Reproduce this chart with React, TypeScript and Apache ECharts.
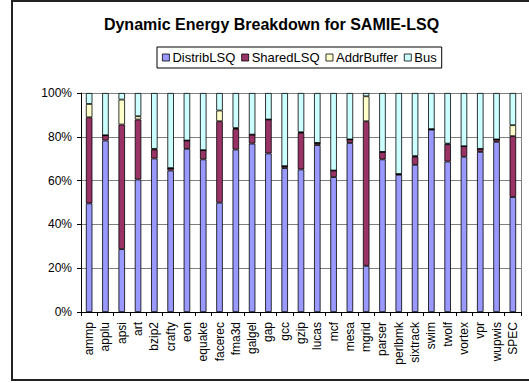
import React, { useEffect, useRef } from "react";
import * as echarts from "echarts";

const categories = [
  "ammp", "applu", "apsi", "art", "bzip2", "crafty", "eon", "equake", "facerec",
  "fma3d", "galgel", "gap", "gcc", "gzip", "lucas", "mcf", "mesa", "mgrid",
  "parser", "perlbmk", "sixtrack", "swim", "twolf", "vortex", "vpr", "wupwis", "SPEC",
];

const distribLSQ = [
  49.6, 78.3, 28.7, 60.5, 70.1, 64.6, 74.5, 69.7, 49.9,
  74.2, 76.9, 72.4, 65.7, 65.1, 76.2, 61.6, 77.2, 21.1,
  69.7, 62.7, 67.2, 83.3, 68.7, 70.9, 73.1, 77.7, 52.5,
];
const sharedLSQ = [
  39.3, 2.4, 56.9, 27.4, 4.1, 1.1, 3.8, 4.2, 37.2,
  9.4, 4.1, 15.5, 0.9, 16.7, 1.0, 3.0, 1.6, 66.0,
  3.4, 0.3, 3.7, 0.2, 7.9, 4.8, 1.4, 1.1, 27.8,
];
const addrBuffer = [
  6.1, 0, 11.4, 1.5, 0.3, 0, 0, 0, 4.9,
  0.4, 0, 0, 0, 0.3, 0, 0, 0, 11.4,
  0, 0, 0.3, 0, 0.3, 0, 0, 0, 5.0,
];
const bus = [
  5.0, 19.3, 3.0, 10.6, 25.5, 34.3, 21.7, 26.1, 8.0,
  16.0, 19.0, 12.1, 33.4, 17.9, 22.8, 35.4, 21.2, 1.5,
  26.9, 37.0, 28.8, 16.5, 23.1, 24.3, 25.5, 21.2, 14.7,
];

const yTicks = [0, 20, 40, 60, 80, 100];

const seriesNames = ["DistribLSQ", "SharedLSQ", "AddrBuffer", "Bus"];
const seriesColors = ["#9999FF", "#993366", "#FFFFCC", "#CCFFFF"];
const seriesData = [distribLSQ, sharedLSQ, addrBuffer, bus];

const FONT = "'Liberation Sans', Arial, sans-serif";

export default function App() {
  const ref = useRef<HTMLDivElement>(null);

  useEffect(() => {
    if (!ref.current) return;
    const chart = echarts.init(ref.current, null, { renderer: "svg" });
    chart.setOption({
      animation: false,
      backgroundColor: "#ffffff",
      textStyle: { fontFamily: FONT },
      graphic: [
        {
          type: "rect",
          shape: { x: 12, y: 1, width: 530, height: 379 },
          style: { fill: "none", stroke: "#222", lineWidth: 2 },
          silent: true,
          z: -10,
        },
        {
          type: "text",
          x: 271.5,
          y: 24,
          style: {
            text: "Dynamic Energy Breakdown for SAMIE-LSQ",
            font: `bold 16px ${FONT}`,
            fill: "#000",
            textAlign: "center",
            textVerticalAlign: "middle",
          },
        },
      ],
      legend: {
        left: 157,
        top: 47,
        orient: "horizontal",
        padding: [4, 5, 4, 5],
        borderColor: "#000",
        borderWidth: 1,
        itemGap: 6,
        itemWidth: 7,
        itemHeight: 7,
        icon: "rect",
        itemStyle: { borderColor: "#000", borderWidth: 0.8 },
        textStyle: { fontFamily: FONT, fontSize: 13, color: "#000", padding: [0, 0, 0, -2] },
        data: seriesNames,
      },
      grid: { left: 81, top: 93, width: 440, height: 219, containLabel: false },
      xAxis: {
        type: "category",
        data: categories,
        axisLine: { lineStyle: { color: "#000", width: 1 } },
        axisTick: { show: true, length: 4, inside: false, interval: 0, lineStyle: { color: "#000" } },
        axisLabel: {
          interval: 0,
          rotate: 90,
          margin: 10,
          fontFamily: FONT,
          fontSize: 12,
          color: "#000",
        },
        splitLine: { show: false },
      },
      yAxis: [
        {
          type: "value",
          min: yTicks[0],
          max: yTicks[yTicks.length - 1],
          interval: 20,
          axisLine: { show: true, lineStyle: { color: "#000", width: 1 } },
          axisTick: { show: true, length: 4, inside: false, lineStyle: { color: "#000" } },
          axisLabel: {
            formatter: "{value}%",
            margin: 9,
            fontFamily: FONT,
            fontSize: 12,
            color: "#000",
          },
          splitLine: { show: true, lineStyle: { color: "#808080", width: 1 } },
        },
        {
          type: "value",
          position: "right",
          min: yTicks[0],
          max: yTicks[yTicks.length - 1],
          interval: 20,
          axisLine: { show: true, lineStyle: { color: "#808080", width: 1 } },
          axisTick: { show: false },
          axisLabel: { show: false },
          splitLine: { show: false },
        },
      ],
      series: seriesNames.map((name, i) => ({
        name,
        type: "bar",
        stack: "total",
        yAxisIndex: 0,
        data: seriesData[i],
        barWidth: "40%",
        itemStyle: { color: seriesColors[i], borderColor: "#000", borderWidth: 0.8 },
      })),
    });
    return () => chart.dispose();
  }, []);

  return (
    <div
      ref={ref}
      style={{ position: "absolute", left: 0, top: 0, width: 529, height: 383 }}
    />
  );
}
